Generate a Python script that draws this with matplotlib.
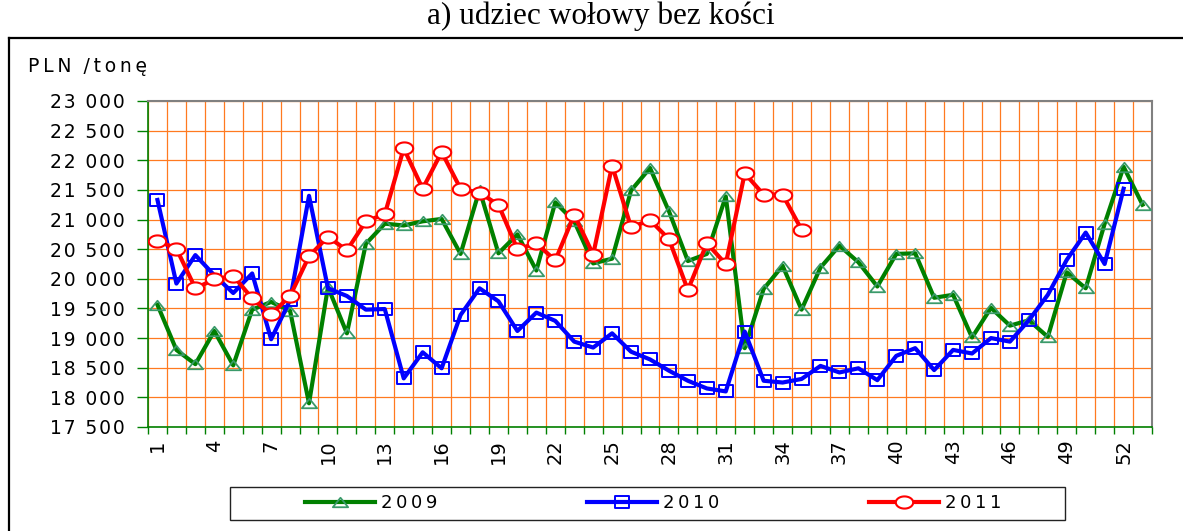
import numpy as np
import matplotlib.pyplot as plt
from matplotlib.path import Path
from matplotlib.lines import Line2D
from matplotlib.patches import Rectangle
from matplotlib.ticker import FixedLocator, FuncFormatter

# ceny tygodniowe, PLN/tonę
weeks = list(range(1, 54))
y2009 = [19560, 18800, 18560, 19120, 18540, 19480, 19610, 19460, 17900, 19860,
         19080, 20590, 20930, 20900, 20970, 21010, 20420, 21500, 20430, 20750,
         20140, 21290, 20970, 20260, 20340, 21490, 21870, 21140, 20300, 20420,
         21390, 18830, 19830, 20220, 19480, 20190, 20560, 20280, 19870, 20420,
         20430, 19680, 19730, 19010, 19510, 19210, 19300, 19020, 20110, 19840,
         20930, 21890, 21250]
y2010 = [21330, 19920, 20400, 20060, 19760, 20090, 18980, 19640, 21400, 19840,
         19710, 19480, 19490, 18320, 18760, 18490, 19390, 19840, 19620, 19120,
         19430, 19290, 18940, 18840, 19080, 18770, 18640, 18450, 18280, 18150,
         18100, 19110, 18280, 18250, 18310, 18530, 18420, 18490, 18290, 18700,
         18830, 18460, 18800, 18740, 19000, 18940, 19300, 19730, 20320, 20780,
         20250, 21520]
y2011 = [20640, 20510, 19840, 19990, 20050, 19670, 19400, 19710, 20380, 20710,
         20480, 20970, 21090, 22200, 21520, 22140, 21520, 21450, 21250, 20500,
         20600, 20310, 21080, 20410, 21910, 20870, 20990, 20670, 19810, 20600,
         20250, 21780, 21420, 21420, 20830]
series_labels = ['2009', '2010', '2011']
x_ticks = list(range(1, 54, 3))
y_ticks = list(range(17500, 23001, 500))

FAM = ['DejaVu Sans']


def spaced(s, sep='\u2009'):
    return sep.join(s)


# znaczniki rozciągnięte w poziomie
t = np.linspace(0, 2 * np.pi, 64)
ellipse = Path(np.column_stack([np.cos(t), 0.7 * np.sin(t)]), closed=True)
tri = Path([(-1, -0.62), (1, -0.62), (0, 0.62), (-1, -0.62)], closed=True)
rect = Path([(-1, -0.88), (1, -0.88), (1, 0.88), (-1, 0.88), (-1, -0.88)],
            closed=True)

fig = plt.figure(figsize=(11.83, 5.31), dpi=100)
ax = fig.add_axes([0.1251, 0.1959, 0.8487, 0.6139])

ax.plot(weeks[:len(y2009)], y2009, color='#008000', lw=3.0, marker=tri,
        ms=11, mfc='none', mec='#3a9a6a', mew=1.3, zorder=3, label=series_labels[0])
ax.plot(weeks[:len(y2010)], y2010, color='#0000ff', lw=3.0, marker=rect,
        ms=9.5, mfc='none', mec='#0000ff', mew=1.4, zorder=4, label=series_labels[1])
ax.plot(weeks[:len(y2011)], y2011, color='#ff0000', lw=3.0, marker=ellipse,
        ms=12.5, mfc='white', mec='#ff0000', mew=1.5, zorder=5, label=series_labels[2])

ax.set_xlim(0.5, 53.5)
ax.set_ylim(17500, 23000)

ax.xaxis.set_major_locator(FixedLocator(x_ticks))
ax.xaxis.set_minor_locator(FixedLocator(np.arange(0.5, 54, 1)))
ax.yaxis.set_major_locator(FixedLocator(y_ticks))
ax.yaxis.set_major_formatter(FuncFormatter(
    lambda v, p: spaced(f"{int(v):,}".replace(',', ' '), '\u200a')))

ax.grid(True, which='minor', axis='x', color='#ff7a20', lw=0.9, zorder=0)
ax.grid(True, which='major', axis='y', color='#ff7a20', lw=0.9, zorder=0)
ax.set_axisbelow(True)

ax.tick_params(axis='x', which='major', length=0, pad=9, labelrotation=90,
               labelsize=14)
ax.tick_params(axis='x', which='minor', length=5, width=1, color='#008000')
ax.tick_params(axis='y', which='major', length=8, width=1, color='#008000',
               pad=9, labelsize=13.5)
for lab in ax.get_xticklabels() + ax.get_yticklabels():
    lab.set_family(FAM)

for side in ('left', 'bottom'):
    ax.spines[side].set_color('#008000')
    ax.spines[side].set_linewidth(1.2)
for side in ('top', 'right'):
    ax.spines[side].set_color('#808080')
    ax.spines[side].set_linewidth(1.5)

fig.text(0.024, 0.874, spaced('PLN') + '  ' + spaced('/tonę'), fontsize=13.5,
         family=FAM, ha='left', va='center')
fig.text(0.508, 0.970, 'a) udziec wołowy bez kości', fontsize=22.5,
         family=['Liberation Serif', 'DejaVu Serif'], ha='center', va='center')

# ramka obejmująca wykres
fig.add_artist(Line2D([9 / 1183, 1.0], [1 - 38 / 531] * 2, color='black', lw=1.6))
fig.add_artist(Line2D([9 / 1183] * 2, [0.0, 1 - 38 / 531], color='black', lw=1.6))

# legenda
fig.add_artist(Rectangle((230 / 1183, 11 / 531), 835 / 1183, 33 / 531,
                         transform=fig.transFigure, fill=False,
                         edgecolor='#222222', lw=1.0))
handles, labels = ax.get_legend_handles_labels()
leg = fig.legend(handles, [spaced(l) for l in labels], loc='center',
                 bbox_to_anchor=(653 / 1183, 27.5 / 531), ncol=3, frameon=False,
                 handlelength=3.9, handletextpad=0.3, columnspacing=8.3,
                 prop={'family': FAM, 'size': 13})

fig.savefig('out.png', dpi=100)
